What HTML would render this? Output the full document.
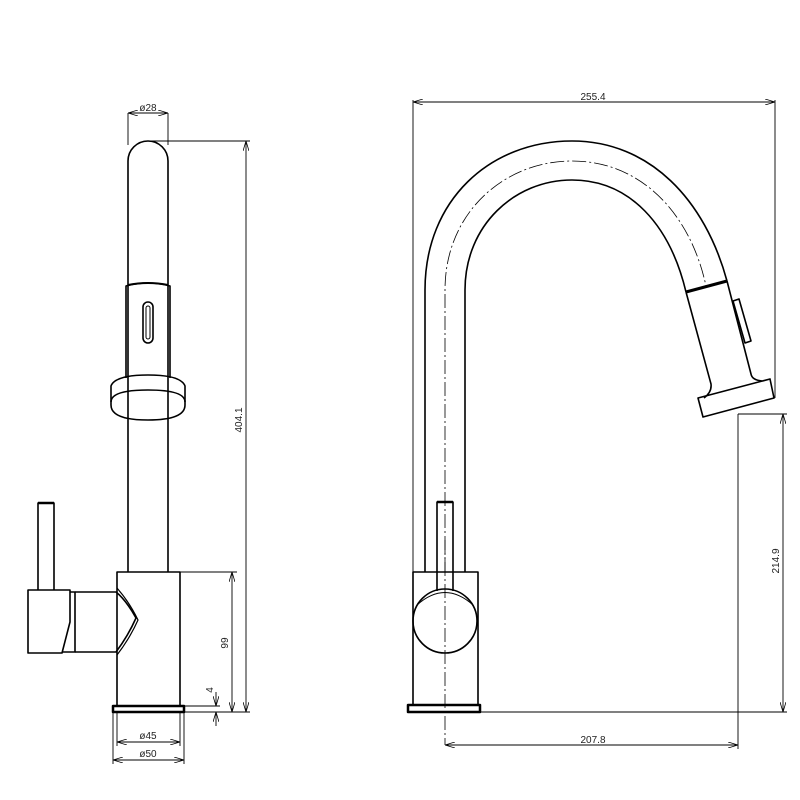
<!DOCTYPE html>
<html><head><style>html,body{margin:0;padding:0;background:#fff}svg{display:block}</style></head>
<body>
<svg width="800" height="800" viewBox="0 0 800 800" xmlns="http://www.w3.org/2000/svg" font-family="Liberation Sans, sans-serif">
<defs>
<marker id="a" viewBox="0 0 10 6" refX="10" refY="3" markerWidth="10" markerHeight="6" orient="auto-start-reverse" markerUnits="userSpaceOnUse"><path d="M0,0 L10,3 L0,6" fill="none" stroke="#000" stroke-width="0.8"/></marker>
</defs>
<g fill="none" stroke="#000" stroke-width="1.6" stroke-linejoin="round">
<!-- LEFT VIEW -->
<path d="M128,572 L128,161 A20,20 0 0 1 168,161 L168,572"/>
<path d="M126,378 L126,286 Q148,280 170,286 L170,378"/>
<path d="M128,285 Q148,281 168,285" stroke-width="2"/>
<rect x="143" y="302" width="10" height="41" rx="5"/>
<rect x="146" y="306" width="4" height="33" rx="2" stroke-width="1"/>
<path d="M111,386 Q115,375 148,375 Q181,375 185,386 L185,405 Q185,420 148,420 Q111,420 111,405 Z"/>
<path d="M111,402 Q111,390 148,390 Q185,390 185,402"/>
<rect x="117" y="572" width="63" height="134"/>
<rect x="113" y="706" width="71" height="6" stroke-width="2.5"/>
<path d="M38,590 L38,503 L54,503 L54,590"/>
<path d="M38,503 L54,503" stroke-width="2.5"/>
<path d="M28,590 L70,590 L70,622 L62,653 L28,653 Z"/>
<path d="M70,592 L75,592 L75,652 L62,652"/>
<path d="M75,592 L116,592 Q126,600 136,618 Q128,636 116,652 L75,652"/>
<path d="M117,588 Q130,603 138,620 Q130,638 117,655" stroke-width="1.2"/>
<!-- RIGHT VIEW -->
<path d="M425,572 L425,290 C425,200 490,141 572,141 C650,141 705,200 727,281"/>
<path d="M465,572 L465,290 C465,225 515,180 572,180 C630,180 670,225 686,292"/>
<path d="M686,292 L727,281" stroke-width="3"/>
<path d="M686,292 L711,384 Q712,392 704,398 M727,281 L751,374 Q752,380 762,381"/>
<path d="M698,398 L770,379 L774,398 L703,417 Z"/>
<path d="M733,301 L739,299 L751,341 L745,343 Z"/>
<rect x="413" y="572" width="65" height="133"/>
<rect x="408" y="705" width="72" height="7" stroke-width="2.5"/>
<path d="M437,591 L437,502 L453,502 L453,591"/>
<path d="M437,502 L453,502" stroke-width="2.5"/>
<circle cx="445" cy="621" r="32"/>
<path d="M417,605 Q445,580 473,605" stroke-width="1"/>
</g>
<g fill="none" stroke="#000" stroke-width="0.8" stroke-dasharray="14,3,2,3">
<path d="M445,540 L445,745"/>
<path d="M445,572 L445,290 C445,212 505,161 572,161 C640,161 690,212 706,286"/>
</g>
<g fill="none" stroke="#000" stroke-width="0.9">
<path d="M128,113 L128,145 M168,113 L168,145"/>
<path d="M128,113 L168,113" marker-start="url(#a)" marker-end="url(#a)"/>
<path d="M150,141 L250,141"/>
<path d="M246,141 L246,712" marker-start="url(#a)" marker-end="url(#a)"/>
<path d="M180,572 L237,572"/>
<path d="M232,572 L232,712" marker-start="url(#a)" marker-end="url(#a)"/>
<path d="M184,712 L250,712 M184,706 L220,706"/>
<path d="M216,692 L216,706" marker-end="url(#a)"/>
<path d="M216,726 L216,712" marker-end="url(#a)"/>
<path d="M117,712 L117,746 M180,712 L180,746 M113,712 L113,764 M184,712 L184,764"/>
<path d="M117,742 L180,742" marker-start="url(#a)" marker-end="url(#a)"/>
<path d="M113,760 L184,760" marker-start="url(#a)" marker-end="url(#a)"/>
<path d="M413,100 L413,572 M775,100 L775,398"/>
<path d="M413,102 L775,102" marker-start="url(#a)" marker-end="url(#a)"/>
<path d="M480,712 L787,712"/>
<path d="M738,414 L787,414"/>
<path d="M783,414 L783,712" marker-start="url(#a)" marker-end="url(#a)"/>
<path d="M738,414 L738,749"/>
<path d="M445,745 L738,745" marker-start="url(#a)" marker-end="url(#a)"/>
</g>
<g font-size="10" fill="#222" text-anchor="middle">
<text x="148" y="111">ø28</text>
<text x="148" y="739">ø45</text>
<text x="148" y="757">ø50</text>
<text x="593" y="100">255.4</text>
<text x="593" y="743">207.8</text>
<text transform="translate(242,420) rotate(-90)">404.1</text>
<text transform="translate(228,643) rotate(-90)">99</text>
<text transform="translate(213,690) rotate(-90)">4</text>
<text transform="translate(779,561) rotate(-90)">214.9</text>
</g>
</svg>
</body></html>
